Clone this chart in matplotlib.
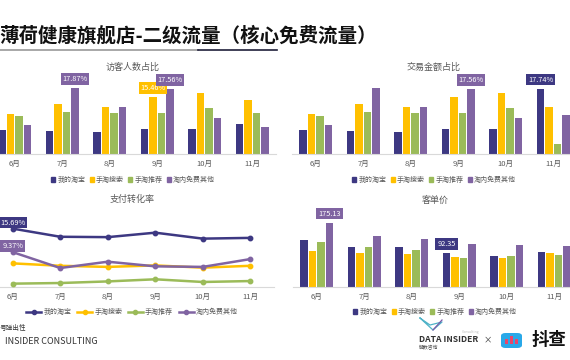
import matplotlib

matplotlib.use("Agg")
import matplotlib.pyplot as plt
import numpy as np
from matplotlib.lines import Line2D
from matplotlib.patches import FancyBboxPatch, Patch, Rectangle

plt.rcParams["font.family"] = ["Noto Sans CJK SC", "DejaVu Sans"]

W, H = 570, 360

months = ["6月", "7月", "8月", "9月", "10月", "11月"]
series = ["我的淘宝", "手淘搜索", "手淘推荐", "淘内免费其他"]
colors = ["#3d3882", "#ffc000", "#9bbb59", "#8064a2"]

# 访客人数占比 (%)
visitor_share = [
    [6.5, 6.2, 5.9, 6.8, 6.8, 8.1],
    [10.8, 13.5, 12.7, 15.46, 16.5, 14.6],
    [10.3, 11.4, 11.1, 11.1, 12.5, 11.1],
    [7.9, 17.87, 12.7, 17.56, 9.7, 7.3],
]
# 交易金额占比 (%)
amount_share = [
    [6.5, 6.2, 5.9, 6.8, 6.8, 17.74],
    [10.8, 13.5, 12.7, 15.46, 16.5, 12.8],
    [10.3, 11.4, 11.1, 11.1, 12.5, 2.6],
    [7.9, 17.87, 12.7, 17.56, 9.7, 10.6],
]
# 支付转化率 (%)
conversion = [
    [15.69, 13.5, 13.4, 14.6, 13.0, 13.2],
    [6.35, 5.7, 5.4, 5.8, 5.2, 5.7],
    [0.9, 1.07, 1.5, 2.07, 1.35, 1.6],
    [9.37, 5.1, 6.8, 5.55, 5.4, 7.5],
]
# 客单价
unit_price = [
    [128, 109, 109, 92.35, 85, 96],
    [99, 92.5, 90.6, 82.5, 78.8, 92.5],
    [122, 108, 101.5, 79.7, 84.3, 87.9],
    [175.13, 139, 130.6, 117.8, 115, 112],
]

# (series index, month index, text) for the boxed labels
visitor_labels = [(3, 1, "17.87%"), (1, 3, "15.46%"), (3, 3, "17.56%")]
amount_labels = [(3, 3, "17.56%"), (0, 5, "17.74%")]
conversion_labels = [(0, 0, "15.69%"), (3, 0, "9.37%")]
price_labels = [(3, 0, "175.13"), (0, 3, "92.35")]


def fx(px):
    return px / W


def fy(py):
    return 1 - py / H


fig = plt.figure(figsize=(5.7, 3.6), dpi=100)


def make_axes(left, base, ymax):
    ax = fig.add_axes([fx(left), fy(base), 285 / W, 80 / H])
    ax.set_xlim(-0.5, 5.5)
    ax.set_ylim(0, ymax)
    for side in ["top", "right", "left"]:
        ax.spines[side].set_visible(False)
    ax.spines["bottom"].set_color("#d9d9d9")
    ax.spines["bottom"].set_linewidth(0.8)
    ax.set_yticks([])
    ax.set_xticks(range(len(months)))
    ax.set_xticklabels(months, fontsize=5.5, color="#595959")
    ax.tick_params(axis="x", length=0, pad=4)
    ax.patch.set_alpha(0)
    return ax


def box_label(ax, x, y, text, color, dy):
    ax.annotate(text, (x, y), xytext=(0, dy), textcoords="offset pixels",
                ha="center", va="center", fontsize=5.3, color="white",
                bbox=dict(boxstyle="square,pad=0.25", fc=color, ec="none"))


def bar_chart(left, base, ymax, data, labels, title, legend_y):
    ax = make_axes(left, base, ymax)
    x = np.arange(len(months))
    w = 0.158
    step = 0.179
    for i, vals in enumerate(data):
        ax.bar(x + (i - 1.5) * step, vals, width=w, color=colors[i], clip_on=False)
    for si, mi, text in labels:
        box_label(ax, mi + (si - 1.5) * step, data[si][mi], text, colors[si], 9)
    fig.text(fx(left + 142), fy(base - 87), title, ha="center", va="center",
             fontsize=6.5, color="#595959")
    handles = [Patch(color=c) for c in colors]
    fig.legend(handles, series, loc="center", bbox_to_anchor=(fx(left + 142), fy(legend_y)),
               ncol=4, fontsize=5, frameon=False, handlelength=0.6, handleheight=0.6,
               handletextpad=0.3, columnspacing=0.6, labelcolor="#595959")
    return ax


bar_chart(-9, 154, 21.7, visitor_share, visitor_labels, "访客人数占比", 180)
bar_chart(292, 154, 21.7, amount_share, amount_labels, "交易金额占比", 180)
bar_chart(293, 287, 217.6, unit_price, price_labels, "客单价", 312)

# 支付转化率 line chart
ax = make_axes(-11, 287, 21.5)
for i, vals in enumerate(conversion):
    ax.plot(range(len(months)), vals, color=colors[i], lw=1.8, marker="o",
            markersize=3.2, clip_on=False, zorder=3 + (i == 0))
for si, mi, text in conversion_labels:
    box_label(ax, mi, conversion[si][mi], text, colors[si], 6)
fig.text(fx(132), fy(199), "支付转化率", ha="center", va="center", fontsize=6.5, color="#595959")
handles = [Line2D([], [], color=c, lw=1.8, marker="o", markersize=3) for c in colors]
fig.legend(handles, series, loc="center", bbox_to_anchor=(fx(132), fy(312)),
           ncol=4, fontsize=5, frameon=False, handlelength=2.2,
           handletextpad=0.3, columnspacing=0.8, labelcolor="#595959")

# main title with underline
fig.text(fx(-1), fy(35.5), "薄荷健康旗舰店-二级流量（核心免费流量）", ha="left", va="center",
         fontsize=14, fontweight="bold", color="#111111")
fig.add_artist(Line2D([fx(0), fx(198)], [fy(50), fy(50)], color="#9a9a9a", lw=1.2))
fig.add_artist(Line2D([fx(198), fx(277)], [fy(50), fy(50)], color="#1f1f3a", lw=1.2))

# footer left
fig.text(fx(0), fy(328), "号弹出性", ha="left", va="center", fontsize=4.8, color="#333333")
fig.text(fx(5), fy(341), "INSIDER CONSULTING", ha="left", va="center",
         fontsize=6.5, color="#333333")

# footer right logos
fig.add_artist(Line2D([fx(420), fx(433), fx(442), fx(430), fx(420)],
                      [fy(318), fy(330), fy(322), fy(325), fy(318)],
                      color="#4fb3c8", lw=0.9))
fig.add_artist(Line2D([fx(433), fx(442)], [fy(330), fy(320)], color="#7a5aa8", lw=0.9))
fig.text(fx(419), fy(340), "DATA INSIDER", ha="left", va="center", fontsize=6.2,
         fontweight="bold", color="#333333")
fig.text(fx(462), fy(332), "Consulting", ha="left", va="center", fontsize=2.5, color="#bbbbbb")
fig.text(fx(419), fy(348), "解数咨询", ha="left", va="center", fontsize=3.5, color="#555555")
fig.text(fx(488), fy(340), "×", ha="center", va="center", fontsize=6, color="#333333")
fig.add_artist(FancyBboxPatch((fx(501), fy(348)), fx(21), 15 / H,
                              boxstyle="round,pad=0,rounding_size=0.008",
                              fc="#29a8e8", ec="none", transform=fig.transFigure))
for bx, bh in [(505, 5), (510, 8), (515, 5)]:
    fig.add_artist(Rectangle((fx(bx), fy(344)), fx(3), bh / H, fc="#e8466a", ec="none",
                             transform=fig.transFigure))
fig.text(fx(532), fy(340), "抖查", ha="left", va="center", fontsize=12.5,
         fontweight="bold", color="#111111")

fig.savefig("out.png", dpi=100)
